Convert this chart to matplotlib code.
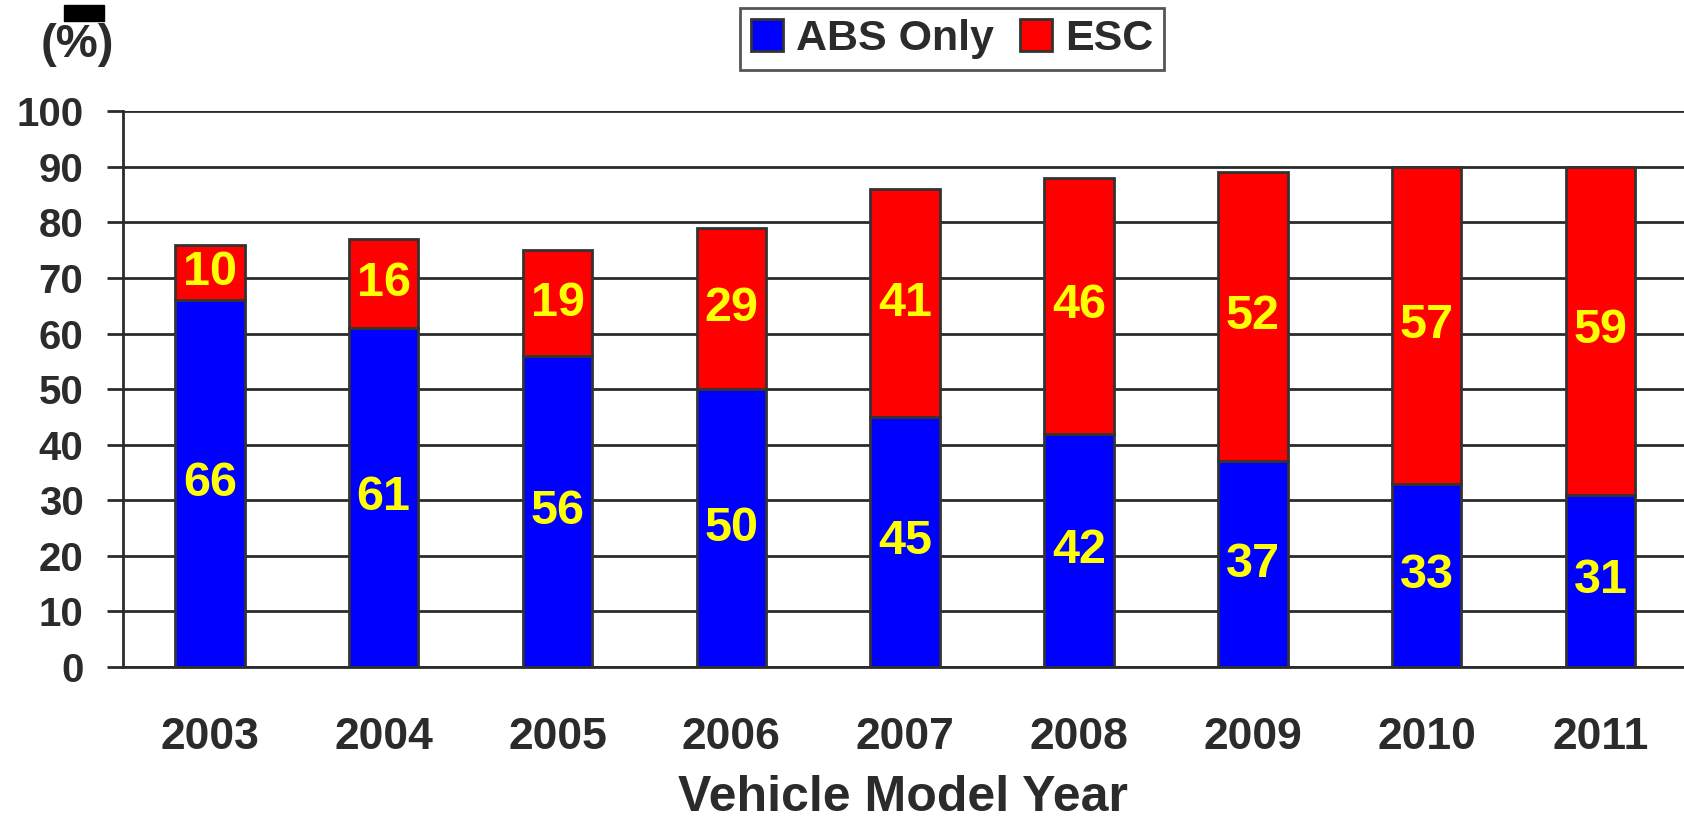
import matplotlib
matplotlib.use("Agg")
import matplotlib.pyplot as plt
import numpy as np
from matplotlib.patches import Rectangle

plt.rcParams['font.family'] = ['Liberation Sans', 'DejaVu Sans']
plt.rcParams['font.weight'] = 'bold'

years = ["2003", "2004", "2005", "2006", "2007", "2008", "2009", "2010", "2011"]
abs_only = [66, 61, 56, 50, 45, 42, 37, 33, 31]
esc = [10, 16, 19, 29, 41, 46, 52, 57, 59]

txt = '#2b2b2b'
edge = '#333333'

fig = plt.figure(figsize=(16.84, 8.22), dpi=100)
ax = fig.add_axes([0.073, 0.1886, 0.927, 0.676])

x = np.arange(len(years))
w = 0.4
b1 = ax.bar(x, abs_only, w, color='#0000ff', edgecolor=edge, linewidth=2, label='ABS Only', zorder=3)
b2 = ax.bar(x, esc, w, bottom=abs_only, color='#ff0000', edgecolor=edge, linewidth=2, label='ESC', zorder=3)

for i in range(len(years)):
    ax.text(x[i], abs_only[i] / 2, str(abs_only[i]), ha='center', va='center',
            color='#ffff00', fontsize=35, fontweight='bold', zorder=4)
    ax.text(x[i], abs_only[i] + esc[i] / 2, str(esc[i]), ha='center', va='center',
            color='#ffff00', fontsize=35, fontweight='bold', zorder=4)

ax.set_xlim(-0.5, 8.48)
ax.set_ylim(0, 100)
ax.set_yticks(range(0, 101, 10))
ax.yaxis.grid(True, color=txt, linewidth=2, zorder=0)
ax.set_axisbelow(True)
for s in ['top', 'right']:
    ax.spines[s].set_visible(False)
ax.spines['left'].set_color(txt)
ax.spines['left'].set_linewidth(2)
ax.spines['bottom'].set_color(txt)
ax.spines['bottom'].set_linewidth(2)

ax.set_xticks(x)
ax.set_xticklabels(years)
ax.tick_params(axis='x', length=0, pad=36, labelsize=32, labelcolor=txt)
ax.tick_params(axis='y', length=11.5, width=2, color=txt, pad=17, labelsize=29, labelcolor=txt)
ax.set_xlabel("Vehicle Model Year", fontsize=36, fontweight='bold', color=txt, labelpad=12)

fig.text(0.046, 0.945, "(%)", fontsize=34, fontweight='bold', color=txt, ha='center', va='center')
fig.patches.append(Rectangle((64 / 1684, 1 - 21 / 822), 40 / 1684, 16 / 822,
                             transform=fig.transFigure, color='black'))

leg = fig.legend(handles=[b1, b2], loc='center', bbox_to_anchor=(0.5653, 0.9526), ncol=2,
                 fontsize=31, frameon=True, fancybox=False, handlelength=0.75, handleheight=0.75,
                 handletextpad=0.3, columnspacing=0.6, borderpad=0.25, borderaxespad=0)
leg.get_frame().set_edgecolor(txt)
leg.get_frame().set_linewidth(2)
for t in leg.get_texts():
    t.set_color(txt)

plt.savefig("out.png", dpi=100)
